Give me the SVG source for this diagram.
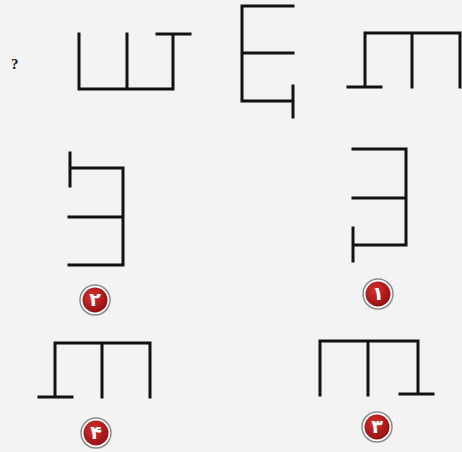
<svg xmlns="http://www.w3.org/2000/svg" width="462" height="452" viewBox="0 0 462 452">
<defs>
<radialGradient id="red" cx="0.4" cy="0.35" r="0.7">
<stop offset="0" stop-color="#d8302c"/>
<stop offset="1" stop-color="#8e1012"/>
</radialGradient>
</defs>
<style>
.ln{fill:none;stroke:#121212;stroke-width:3;stroke-linecap:square;stroke-linejoin:miter}
.ring{fill:#ffffff;stroke:#8c8c8c;stroke-width:1.5}
.disc{fill:url(#red)}
.num{font-family:"DejaVu Sans","Noto Sans",sans-serif;font-weight:bold;font-size:19px;fill:#ffffff;text-anchor:middle}
.q{font-family:"Liberation Serif","DejaVu Serif",serif;font-weight:bold;font-size:15px;fill:#111}
</style>
<rect width="462" height="452" fill="#f3f3f3"/>
<text class="q" x="11" y="69">?</text>
<g id="q1">
<path class="ln" d="M79,34 V89 H173 V35 M127,34 V89 M157,34 H190"/>
</g>
<g id="q2">
<path class="ln" d="M293,6 H242 V101 H292 M242,53 H293 M293,86 V117"/>
</g>
<g id="q3">
<path class="ln" d="M365,87 V33 H460 V87 M412,33 V87 M348,87 H381"/>
</g>
<g id="opt2">
<path class="ln" d="M70,153 V186 M70,168 H123 V265 H69 M69,217 H123"/>
<circle class="ring" cx="95" cy="300" r="15"/>
<circle class="disc" cx="95" cy="300" r="12.5"/>
<text class="num" x="95" y="306">۲</text>
</g>
<g id="opt1">
<path class="ln" d="M353,149 H406 V245 H353 M353,198 H406 M353,228 V261"/>
<circle class="ring" cx="378" cy="294" r="15"/>
<circle class="disc" cx="378" cy="294" r="12.5"/>
<text class="num" x="378" y="300">۱</text>
</g>
<g id="opt4">
<path class="ln" d="M55,397 V343 H150 V397 M102,343 V397 M39,397 H72"/>
<circle class="ring" cx="96" cy="433" r="15"/>
<circle class="disc" cx="96" cy="433" r="12.5"/>
<text class="num" x="96" y="439">۴</text>
</g>
<g id="opt3">
<path class="ln" d="M320,395 V341 H418 V394 M368,341 V395 M400,394 H433"/>
<circle class="ring" cx="377" cy="427" r="15"/>
<circle class="disc" cx="377" cy="427" r="12.5"/>
<text class="num" x="377" y="433">۳</text>
</g>
<g id="connectors"></g>
</svg>
